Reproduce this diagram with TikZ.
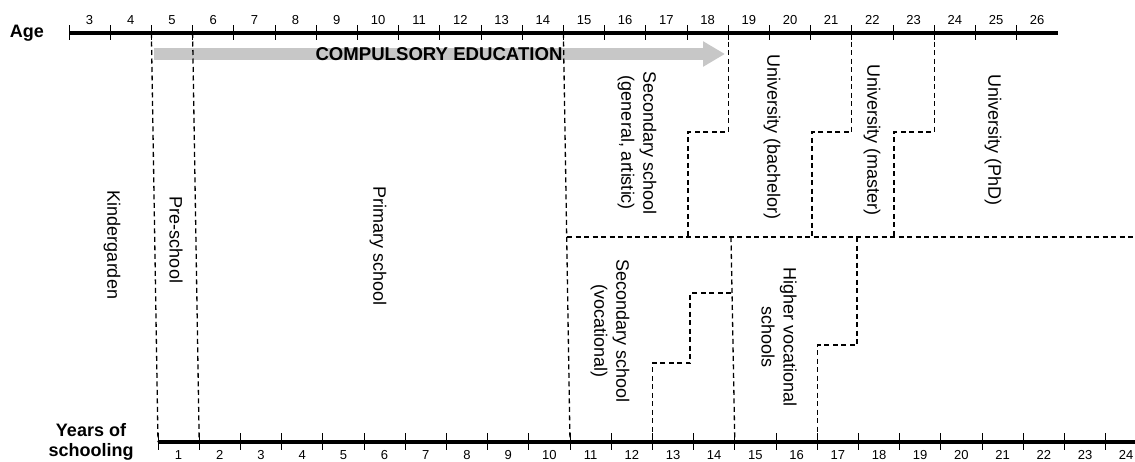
\documentclass[tikz,border=0pt]{standalone}
\usepackage{fontspec}
\setmainfont{Liberation Sans}
\usetikzlibrary{arrows.meta}

\begin{document}
\begin{tikzpicture}[
	x=1pt, y=-1pt,
	axis/.style={ line width=3.5pt },
	tickmark/.style={ line width=0.8pt },
	sep/.style={ dash pattern=on 5pt off 3.5pt, line width=1.3pt },
	num/.style={ font=\fontsize{13}{15}\selectfont, inner sep=0pt },
	heading/.style={ font=\fontsize{18}{20}\selectfont\bfseries, align=center, inner sep=0pt },
	school/.style={ font=\fontsize{18}{22}\selectfont, align=center, rotate=-90, inner sep=0pt },
	compulsory/.style={ line width=12pt, draw=black!22, -{Triangle[length=22pt,width=24pt]} }
]

\useasboundingbox (0,0) rectangle (1135,461);

% axes: age on top, years of schooling below
\foreach \k in {0,...,24} \coordinate (t\k) at ({69+41.2*\k},33);
\foreach \k in {0,...,24} \coordinate (b\k) at ({158+41.2*\k},442);

% compulsory education arrow
\coordinate (ce0) at (154,54);
\coordinate (ce1) at (725,54);
\draw[compulsory] (ce0) to (ce1);
\node at (439,54) (ce) [heading,font=\fontsize{18.6}{20}\selectfont\bfseries] {COMPULSORY EDUCATION};

\draw[axis] (t0) to (t24);
\foreach \k in {0,...,23} \draw[tickmark] ([yshift=8pt]t\k) to ([yshift=-7pt]t\k);
\foreach \a in {3,...,26} \node at ({69+41.2*(\a-2.5)},20) (age\a) [num] {\a};

\draw[axis] (b0) to (b24);
\foreach \k in {0,...,23} \draw[tickmark] ([yshift=9pt]b\k) to ([yshift=-8pt]b\k);
\foreach \n in {1,...,24} \node at ({158+41.2*(\n-0.5)},455) (yr\n) [num] {\n};

\node at (27,33) (age) [heading] {Age};
\node at (91,442) (years) [heading] {Years of\\schooling};

% boundaries running the whole height
\draw[sep] (t2) to (b0);
\draw[sep] (t3) to (b1);
\draw[sep] (t12) to (b10);

% general / vocational split
\coordinate (mid) at (567,237);
\coordinate (midr) at (1135,237);
\draw[sep] (mid) to (midr);

% upper stairs
\coordinate (s1a) at (688,132);
\coordinate (s1b) at (688,237);
\coordinate (s2a) at (812,132);
\coordinate (s2b) at (812,237);
\coordinate (s3a) at (894,132);
\coordinate (s3b) at (894,237);
\draw[sep] (t16) |- (s1a) to (s1b);
\draw[sep] (t19) |- (s2a) to (s2b);
\draw[sep] (t21) |- (s3a) to (s3b);

% lower stairs
\coordinate (v1) at (731,237);
\coordinate (v2) at (731,293);
\coordinate (v3) at (690,363);
\coordinate (h1) at (857,237);
\coordinate (h2) at (857,345);
\draw[sep] (v1) to (b14);
\draw[sep] (v2) -| (v3) -| (b12);
\draw[sep] (h1) to (h2) -| (b16);

% school types
\node at (112,245) (kinder) [school] {Kindergarden};
\node at (176,240) (presch) [school] {Pre-school};
\node at (378,246) (primary) [school] {Primary school};
\node at (637,143) (secgen) [school] {Secondary school\\(general, artistic)};
\node at (772,137) (bach) [school] {University (bachelor)};
\node at (872,140) (mast) [school] {University (master)};
\node at (993,140) (phd) [school] {University (PhD)};
\node at (610,331) (secvoc) [school] {Secondary school\\(vocational)};
\node at (779,337) (higher) [school] {Higher vocational\\schools};

\end{tikzpicture}
\end{document}
